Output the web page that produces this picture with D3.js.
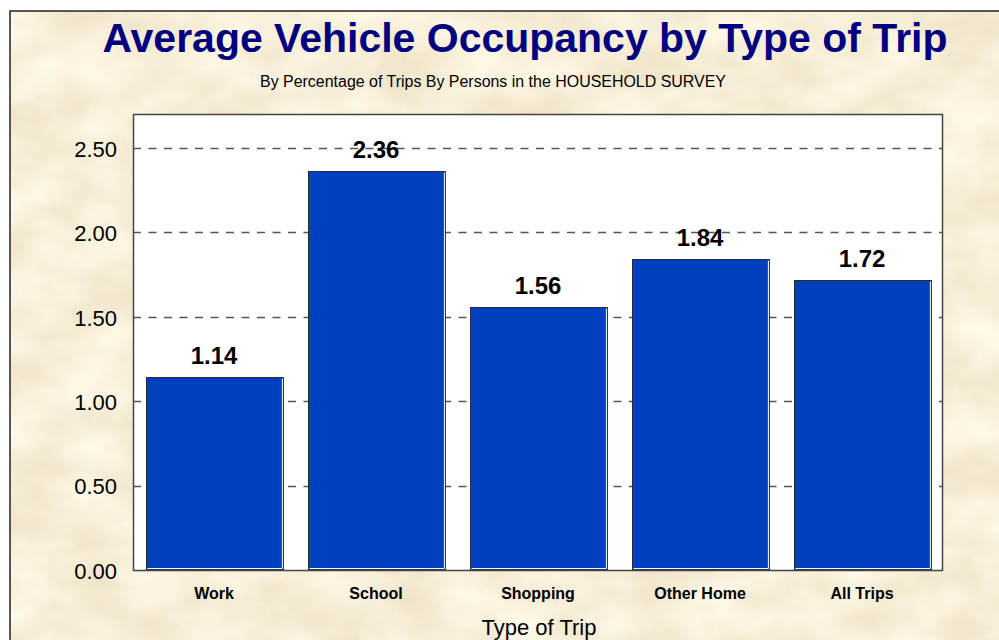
<!DOCTYPE html>
<html>
<head>
<meta charset="utf-8">
<script src="https://cdn.jsdelivr.net/npm/d3@7"></script>
<style>
  html, body { margin: 0; padding: 0; background: #fff; }
  svg { display: block; }
</style>
</head>
<body>
<svg id="chart" width="999" height="640"></svg>
<script>
// Data
const categories = ["Work", "School", "Shopping", "Other Home", "All Trips"];
const occupancy = [1.14, 2.36, 1.56, 1.84, 1.72];
const yTicks = [0, 0.5, 1.0, 1.5, 2.0, 2.5];

const titleText = "Average Vehicle Occupancy by Type of Trip";
const subtitleText = "By Percentage of Trips By Persons in the HOUSEHOLD SURVEY";
const xAxisTitle = "Type of Trip";

const W = 999, H = 640;
const svg = d3.select("#chart");

// Parchment texture
const defs = svg.append("defs");
const f = defs.append("filter").attr("id", "parchment")
  .attr("x", 0).attr("y", 0).attr("width", "100%").attr("height", "100%");
f.append("feTurbulence").attr("type", "fractalNoise")
  .attr("baseFrequency", "0.016 0.022").attr("numOctaves", 5).attr("seed", 11).attr("result", "n");
f.append("feColorMatrix").attr("in", "n").attr("type", "matrix")
  .attr("values", "0.18 0 0 0 0.84  0.26 0 0 0 0.73  0.34 0 0 0 0.52  0 0 0 0 1");

const frame = { x: 10, y: 11 };
svg.append("rect").attr("x", frame.x).attr("y", frame.y)
  .attr("width", W - frame.x + 5).attr("height", H - frame.y + 5)
  .attr("fill", "#efdcb0");
svg.append("rect").attr("x", frame.x).attr("y", frame.y)
  .attr("width", W - frame.x + 5).attr("height", H - frame.y + 5)
  .attr("filter", "url(#parchment)");
svg.append("path")
  .attr("d", `M${frame.x},${H + 2}V${frame.y}H${W + 2}`)
  .attr("fill", "none").attr("stroke", "#222").attr("stroke-width", 1.5);

// Plot area
const plot = { left: 133, top: 114, right: 943, bottom: 570 };

const x = d3.scaleBand().domain(categories)
  .range([plot.left, plot.right]).paddingInner(0.155).paddingOuter(0.0775);
const y = d3.scaleLinear().domain([0, 2.7]).range([plot.bottom, plot.top]);

svg.append("rect")
  .attr("x", plot.left).attr("y", plot.top)
  .attr("width", plot.right - plot.left).attr("height", plot.bottom - plot.top)
  .attr("fill", "#fff");

// Dashed gridlines
svg.append("g").selectAll("line").data(yTicks.filter(d => d > 0)).join("line")
  .attr("x1", plot.left).attr("x2", plot.right)
  .attr("y1", d => Math.round(y(d)) + 0.5).attr("y2", d => Math.round(y(d)) + 0.5)
  .attr("stroke", "#555").attr("stroke-width", 1.5).attr("stroke-dasharray", "8,7.5");

// Bars
const bars = svg.append("g");
bars.selectAll("rect.bar").data(occupancy).join("rect")
  .attr("class", "bar")
  .attr("x", (d, i) => Math.round(x(categories[i])) + 0.5)
  .attr("y", d => Math.round(y(d)) + 0.5)
  .attr("width", x.bandwidth())
  .attr("height", d => y(0) - Math.round(y(d)) - 0.5)
  .attr("fill", "#003fbe").attr("stroke", "#2a2a3a").attr("stroke-width", 1);
// light edge on the right and bottom of each bar
bars.selectAll("path.hl").data(occupancy).join("path")
  .attr("class", "hl")
  .attr("d", (d, i) => {
    const x0 = Math.round(x(categories[i])) + 1.5;
    const x1 = Math.round(x(categories[i])) + x.bandwidth() - 0.5;
    const yt = Math.round(y(d)) + 1.5;
    const yb = y(0) - 1.5;
    return `M${x1},${yt}V${yb}H${x0}`;
  })
  .attr("fill", "none").attr("stroke", "#fff").attr("stroke-width", 1);

// Value labels
svg.append("g").selectAll("text").data(occupancy).join("text")
  .attr("x", (d, i) => x(categories[i]) + x.bandwidth() / 2)
  .attr("y", d => y(d) - 13)
  .attr("text-anchor", "middle")
  .attr("font-family", "Liberation Sans, Arial, sans-serif")
  .attr("font-weight", "bold").attr("font-size", 24).attr("fill", "#000")
  .text(d => d.toFixed(2));

// Plot border
svg.append("rect")
  .attr("x", plot.left + 0.5).attr("y", plot.top + 0.5)
  .attr("width", plot.right - plot.left - 1).attr("height", plot.bottom - plot.top)
  .attr("fill", "none").attr("stroke", "#444").attr("stroke-width", 1.5);

// Y axis
const yAxis = d3.axisLeft(y).tickValues(yTicks).tickFormat(d3.format(".2f")).tickSize(0).tickPadding(16);
const gy = svg.append("g").attr("transform", `translate(${plot.left},0)`).call(yAxis);
gy.select(".domain").remove();
gy.selectAll("text")
  .attr("font-family", "Liberation Sans, Arial, sans-serif")
  .attr("font-size", 22).attr("fill", "#000").attr("dy", "0.38em");

// X axis
const xAxis = d3.axisBottom(x).tickSize(0).tickPadding(0);
const gx = svg.append("g").attr("transform", `translate(0,${plot.bottom})`).call(xAxis);
gx.select(".domain").remove();
gx.selectAll("text")
  .attr("y", 29).attr("dy", 0)
  .attr("font-family", "Liberation Sans, Arial, sans-serif")
  .attr("font-weight", "bold").attr("font-size", 16).attr("fill", "#000");

// Axis title
svg.append("text")
  .attr("x", 539).attr("y", 635).attr("text-anchor", "middle")
  .attr("font-family", "Liberation Sans, Arial, sans-serif")
  .attr("font-size", 22).attr("fill", "#000")
  .text(xAxisTitle);

// Titles
svg.append("text")
  .attr("x", 525).attr("y", 52).attr("text-anchor", "middle")
  .attr("font-family", "Liberation Sans, Arial, sans-serif")
  .attr("font-weight", "bold").attr("font-size", 40).attr("fill", "#000080")
  .attr("textLength", 845).attr("lengthAdjust", "spacingAndGlyphs")
  .text(titleText);

svg.append("text")
  .attr("x", 493).attr("y", 87).attr("text-anchor", "middle")
  .attr("font-family", "Liberation Sans, Arial, sans-serif")
  .attr("font-size", 16).attr("fill", "#000")
  .attr("textLength", 466).attr("lengthAdjust", "spacingAndGlyphs")
  .text(subtitleText);
</script>
</body>
</html>
